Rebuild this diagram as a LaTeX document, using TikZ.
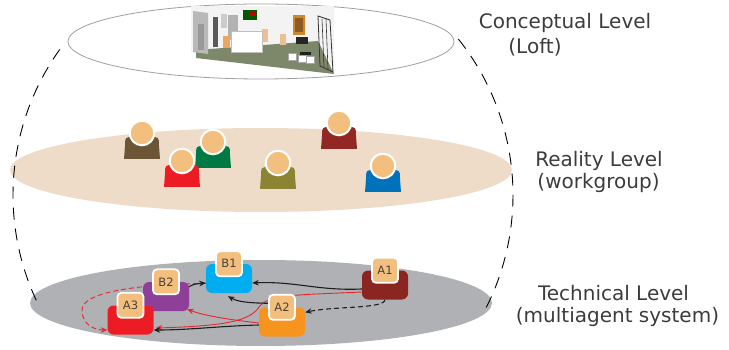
\documentclass[tikz,border=0pt]{standalone}
\usepackage{fontspec}
\newfontfamily\labelfont{DejaVu Sans}
\usetikzlibrary{arrows.meta,calc}

\definecolor{headtan}{HTML}{F3BF7E}
\definecolor{realityfill}{HTML}{EEDBC8}
\definecolor{techfill}{HTML}{B0B1B4}
\definecolor{labelgray}{HTML}{3C3C3C}
\definecolor{tagtext}{HTML}{4A4038}
\definecolor{arrowblack}{HTML}{1E1E1E}
\definecolor{arrowred}{HTML}{E8262C}
\definecolor{pbrown}{HTML}{6B5535}
\definecolor{pred}{HTML}{ED1C24}
\definecolor{pgreen}{HTML}{007A45}
\definecolor{polive}{HTML}{8A8433}
\definecolor{pdarkred}{HTML}{922823}
\definecolor{pblue}{HTML}{0072BC}
\definecolor{agentblue}{HTML}{00AEEF}
\definecolor{agentpurple}{HTML}{8E4099}
\definecolor{agentred}{HTML}{ED1C24}
\definecolor{agentorange}{HTML}{F7941D}
\definecolor{agentdarkred}{HTML}{8B2522}
\definecolor{loftbg}{HTML}{F2F3F2}
\definecolor{loftfloor}{HTML}{7D876A}
\definecolor{artframe}{HTML}{C98A2E}
\definecolor{artinner}{HTML}{8E5A22}

\pgfdeclarelayer{back}
\pgfdeclarelayer{mid}
\pgfsetlayers{back,mid,main}

\tikzset{
  levellabel/.style={font=\labelfont\fontsize{20}{24}\selectfont, text=labelgray, inner sep=0pt},
  agent/.style={rectangle, rounded corners=6pt, minimum width=46pt, minimum height=29pt, inner sep=0pt},
  tag/.style={rectangle, rounded corners=4pt, fill=headtan, draw=white, line width=1.8pt,
    minimum width=26pt, minimum height=25pt, inner sep=0pt,
    font=\labelfont\fontsize{11.5}{13}\selectfont, text=tagtext},
  flow/.style={-{Stealth[length=6.5pt,width=5.5pt]}},
  blackflow/.style={flow, draw=arrowblack, line width=1.1pt},
  redflow/.style={flow, draw=arrowred, line width=0.9pt},
  shortdash/.style={dash pattern=on 5pt off 3pt},
  hull/.style={draw=black, line width=0.9pt, dash pattern=on 12pt off 9pt},
  pics/person/.style={code={
    \fill[#1] (-18,26) -- (-17,13) .. controls (-17,4) .. (-8,4) -- (8,4)
      .. controls (17,4) .. (17,13) -- (18,26) -- cycle;
    \filldraw[fill=headtan, draw=white, line width=2pt] (0,0) circle [radius=12.3];
  }}
}

\begin{document}
\begin{tikzpicture}[x=1pt, y=-1pt]
\useasboundingbox (0,0) rectangle (729,350);

% ---- the three levels ----
\begin{pgfonlayer}{back}
  \fill[realityfill] (261,170) ellipse [x radius=251, y radius=42];
  \fill[techfill] (261,303) ellipse [x radius=231, y radius=43];
  \draw[gray!75, line width=0.8pt] (261,41.5) ellipse [x radius=193, y radius=37.5];

  % dashed hull joining the levels
  \draw[hull] (263,195) ++(155.1:250) arc [start angle=155.1, end angle=217.6, radius=250];
  \draw[hull] (263,195) ++(-38.6:250) arc [start angle=-38.6, end angle=26.9, radius=250];

  % loft rendering
  \fill[loftbg] (191,6) rectangle (334,74);
  \fill[white] (191,52) -- (334,74) -- (191,74) -- cycle;
  \fill[loftfloor] (196,50) -- (318,41) -- (334,74) -- (196,58) -- cycle;
  \fill[gray!55] (193,11) -- (208,13) -- (208,54) -- (193,52) -- cycle;
  \fill[gray!80] (198,24) rectangle (204,50);
  \fill[gray!70!black] (213,17) rectangle (218,47);
  \fill[gray!60] (228,15) rectangle (238,40);
  \fill[gray!40] (221,14) rectangle (227,28);
  \fill[green!35!black] (243,10) rectangle (257,20);
  \fill[red!75!black] (250,11) rectangle (256,16);
  \fill[orange!60!brown!70] (223,36) rectangle (230,48);
  \fill[orange!45!brown!50] (262,29) rectangle (268,42);
  \fill[orange!45!brown!50] (280,34) rectangle (286,45);
  \filldraw[fill=white, draw=gray!50, line width=0.3pt] (231,31) rectangle (262,52);
  \fill[artframe] (293,15) rectangle (305,35);
  \fill[artinner] (295,18) rectangle (303,32);
  \fill[gray!30!black] (296,37) rectangle (308,44);
  \filldraw[fill=white, draw=gray!70, line width=0.4pt] (288,53) rectangle (296,60);
  \filldraw[fill=white, draw=gray!70, line width=0.4pt] (298,55) rectangle (306,62);
  \filldraw[fill=white, draw=gray!70, line width=0.4pt] (306,56) rectangle (314,63);
  \fill[gray!25!black] (300,52) rectangle (311,55);
  \draw[gray!40!black, line width=0.8pt] (318,16) -- (330,20) -- (333,72) -- (320,66) -- cycle;
  \draw[gray!40!black, line width=0.6pt] (322,19) -- (324,67);
  \draw[gray!40!black, line width=0.6pt] (326,19) -- (328,69);
\end{pgfonlayer}

% ---- level titles ----
\node[levellabel, anchor=base] (concept) at (565,29) {Conceptual Level};
\node[levellabel, anchor=base] (loft) at (535,54) {(Loft)};
\node[levellabel, anchor=base] (reality) at (599,167) {Reality Level};
\node[levellabel, anchor=base] (workgroup) at (598.5,189) {(workgroup)};
\node[levellabel, anchor=base] (technical) at (613.5,300) {Technical Level};
\node[levellabel, anchor=base] (mas) at (617.5,322) {(multiagent system)};

% ---- workgroup members ----
\pic at (142,133) {person=pbrown};
\pic at (213,142) {person=pgreen};
\pic at (182,161) {person=pred};
\pic at (278,163) {person=polive};
\pic at (339,123) {person=pdarkred};
\pic at (383,166) {person=pblue};

% ---- agents ----
\node[agent, fill=agentblue] (B1) at (229,278.5) {};
\node[agent, fill=agentpurple] (B2) at (166,296.5) {};
\node[agent, fill=agentred] (A3) at (130.5,320) {};
\node[agent, fill=agentorange] (A2) at (282,322) {};
\node[agent, fill=agentdarkred] (A1) at (385,285) {};
\node[tag] (B1t) at (B1.north) {B1};
\node[tag] (B2t) at (B2.north) {B2};
\node[tag] (A3t) at (A3.north) {A3};
\node[tag] (A2t) at (A2.north) {A2};
\node[tag] (A1t) at (A1.north) {A1};

% ---- interactions between agents ----
\begin{pgfonlayer}{mid}
  \draw[redflow, shortdash] ($(B1.west)+(0,5)$) .. controls (150,284) and (82,290) .. (82,310)
    .. controls (82,325) and (95,330) .. ($(A3.west)+(0,10)$);
  \draw[redflow] ($(A1.west)+(0,7)$) .. controls (300,295) and (268,294) .. (259,307)
    .. controls (250,321) and (225,326) .. ($(A3.east)+(2,8)$);
  \draw[redflow] ($(A2.west)+(0,1)$) .. controls (232,320) and (205,316) .. ($(B2.south east)+(-2,-2)$);
  \draw[blackflow] ($(A2.west)+(0,3)$) .. controls (220,326) and (190,330) .. ($(A3.east)+(0,10)$);
  \draw[blackflow] ($(A2t.west)+(1,-4)$) .. controls (250,303) and (238,302) .. ($(B1.south)+(-1,3)$);
  \draw[blackflow] ($(A1.west)+(0,4)$) .. controls (318,291) and (295,281) .. ($(B1.east)+(0,4.5)$);
  \draw[blackflow] ($(B2.north east)+(-2,6)$) .. controls (194,284) .. ($(B1.west)+(0,4.5)$);
  \draw[blackflow, shortdash] (A1.south) .. controls (384,309) and (335,306) .. ($(A2.north east)+(0,5)$);
\end{pgfonlayer}
\end{tikzpicture}
\end{document}
